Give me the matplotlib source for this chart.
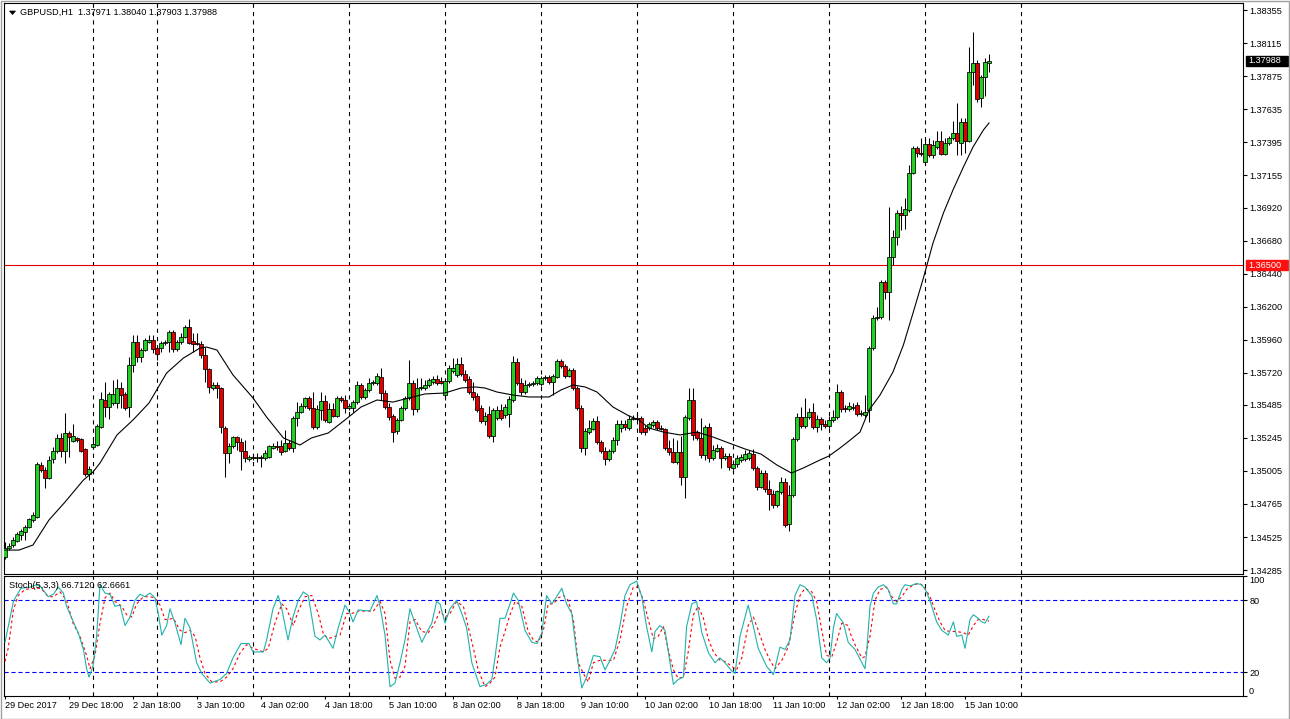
import numpy as np
import matplotlib
matplotlib.use("Agg")
import matplotlib.pyplot as plt
from matplotlib.patches import Rectangle, Polygon
from matplotlib.transforms import blended_transform_factory

# ---------------- data ----------------
title_text = "GBPUSD,H1  1.37971 1.38040 1.37903 1.37988"
stoch_title = "Stoch(5,3,3) 66.7120 62.6661"

open_ = [
 1.34380, 1.34445, 1.34467, 1.34496, 1.34540, 1.34561, 1.34598, 1.34649, 1.34670, 1.35048,
 1.35012, 1.34954, 1.35092, 1.35150, 1.35245, 1.35150, 1.35281, 1.35223, 1.35245, 1.35237,
 1.35165, 1.34983, 1.35179, 1.35194, 1.35325, 1.35521, 1.35470, 1.35499, 1.35499, 1.35608,
 1.35565, 1.35470, 1.35775, 1.35943, 1.35834, 1.35884, 1.35943, 1.35957, 1.35899, 1.35899,
 1.35935, 1.35943, 1.36015, 1.35892, 1.35943, 1.35979, 1.36052, 1.35950, 1.35935, 1.35928,
 1.35848, 1.35746, 1.35608, 1.35630, 1.35608, 1.35317, 1.35136, 1.35187, 1.35252, 1.35216,
 1.35150, 1.35092, 1.35107, 1.35099, 1.35107, 1.35099, 1.35107, 1.35172, 1.35187, 1.35187,
 1.35150, 1.35208, 1.35172, 1.35390, 1.35434, 1.35477, 1.35536, 1.35463, 1.35325, 1.35448,
 1.35514, 1.35361, 1.35456, 1.35405, 1.35536, 1.35521, 1.35463, 1.35463, 1.35506, 1.35630,
 1.35543, 1.35594, 1.35645, 1.35645, 1.35688, 1.35572, 1.35470, 1.35405, 1.35296, 1.35376,
 1.35463, 1.35536, 1.35645, 1.35456, 1.35608, 1.35608, 1.35630, 1.35652, 1.35674, 1.35659,
 1.35557, 1.35659, 1.35732, 1.35703, 1.35783, 1.35710, 1.35674, 1.35579, 1.35550, 1.35463,
 1.35368, 1.35419, 1.35259, 1.35390, 1.35448, 1.35412, 1.35419, 1.35521, 1.35797, 1.35645,
 1.35579, 1.35630, 1.35637, 1.35645, 1.35637, 1.35681, 1.35688, 1.35652, 1.35688, 1.35805,
 1.35768, 1.35695, 1.35739, 1.35608, 1.35463, 1.35172, 1.35288, 1.35310, 1.35368, 1.35216,
 1.35150, 1.35092, 1.35150, 1.35230, 1.35317, 1.35347, 1.35317, 1.35383, 1.35390, 1.35390,
 1.35317, 1.35317, 1.35339, 1.35361, 1.35317, 1.35310, 1.35172, 1.35143, 1.35070, 1.35143,
 1.34961, 1.35390, 1.35521, 1.35288, 1.35245, 1.35121, 1.35325, 1.35099, 1.35150, 1.35172,
 1.35099, 1.35114, 1.35027, 1.35056, 1.35085, 1.35092, 1.35099, 1.35128, 1.35027, 1.34889,
 1.34990, 1.34874, 1.34838, 1.34758, 1.34852, 1.34925, 1.34620, 1.34830, 1.35237, 1.35397,
 1.35332, 1.35397, 1.35434, 1.35325, 1.35383, 1.35347, 1.35332, 1.35376, 1.35397, 1.35579,
 1.35463, 1.35456, 1.35463, 1.35485, 1.35419, 1.35412, 1.35448, 1.35899, 1.36117, 1.36124,
 1.36379, 1.36306, 1.36561, 1.36706, 1.36880, 1.36866, 1.36902, 1.37171, 1.37353, 1.37317,
 1.37251, 1.37382, 1.37302, 1.37360, 1.37404, 1.37309, 1.37389, 1.37426, 1.37462, 1.37389,
 1.37542, 1.37404, 1.37906, 1.37971, 1.37717, 1.37869, 1.37971]

high_ = [
 1.34489, 1.34481, 1.34525, 1.34561, 1.34583, 1.34612, 1.34663, 1.34707, 1.35070, 1.35070,
 1.35034, 1.35114, 1.35179, 1.35274, 1.35281, 1.35426, 1.35296, 1.35347, 1.35252, 1.35245,
 1.35172, 1.35041, 1.35230, 1.35347, 1.35579, 1.35652, 1.35579, 1.35666, 1.35674, 1.35652,
 1.35579, 1.35834, 1.35994, 1.35994, 1.35899, 1.35972, 1.35994, 1.35994, 1.35921, 1.35950,
 1.35957, 1.36030, 1.36030, 1.35957, 1.36008, 1.36066, 1.36110, 1.36008, 1.36008, 1.35950,
 1.35906, 1.35754, 1.35652, 1.35652, 1.35616, 1.35332, 1.35208, 1.35259, 1.35259, 1.35245,
 1.35230, 1.35121, 1.35121, 1.35136, 1.35121, 1.35157, 1.35194, 1.35208, 1.35223, 1.35230,
 1.35303, 1.35230, 1.35405, 1.35506, 1.35499, 1.35543, 1.35550, 1.35579, 1.35485, 1.35579,
 1.35557, 1.35499, 1.35499, 1.35550, 1.35550, 1.35557, 1.35492, 1.35521, 1.35659, 1.35645,
 1.35608, 1.35681, 1.35666, 1.35717, 1.35754, 1.35594, 1.35499, 1.35419, 1.35390, 1.35477,
 1.35550, 1.35812, 1.35666, 1.35681, 1.35681, 1.35666, 1.35681, 1.35695, 1.35703, 1.35688,
 1.35681, 1.35775, 1.35826, 1.35826, 1.35834, 1.35739, 1.35695, 1.35652, 1.35572, 1.35485,
 1.35434, 1.35477, 1.35463, 1.35477, 1.35492, 1.35492, 1.35550, 1.35841, 1.35826, 1.35681,
 1.35666, 1.35652, 1.35659, 1.35695, 1.35695, 1.35703, 1.35703, 1.35710, 1.35819, 1.35819,
 1.35783, 1.35754, 1.35754, 1.35623, 1.35485, 1.35317, 1.35376, 1.35390, 1.35405, 1.35230,
 1.35179, 1.35165, 1.35252, 1.35376, 1.35376, 1.35376, 1.35412, 1.35412, 1.35419, 1.35405,
 1.35339, 1.35361, 1.35376, 1.35376, 1.35339, 1.35317, 1.35230, 1.35245, 1.35230, 1.35259,
 1.35412, 1.35608, 1.35608, 1.35303, 1.35390, 1.35339, 1.35354, 1.35194, 1.35201, 1.35187,
 1.35136, 1.35136, 1.35085, 1.35121, 1.35128, 1.35157, 1.35157, 1.35165, 1.35041, 1.35012,
 1.35012, 1.34939, 1.34867, 1.34867, 1.34961, 1.34954, 1.34903, 1.35252, 1.35426, 1.35470,
 1.35536, 1.35463, 1.35499, 1.35412, 1.35397, 1.35376, 1.35405, 1.35448, 1.35637, 1.35594,
 1.35485, 1.35506, 1.35499, 1.35506, 1.35448, 1.35557, 1.35914, 1.36139, 1.36197, 1.36393,
 1.36393, 1.36924, 1.36757, 1.36902, 1.36931, 1.36990, 1.37229, 1.37368, 1.37368, 1.37426,
 1.37426, 1.37426, 1.37411, 1.37477, 1.37477, 1.37426, 1.37440, 1.37549, 1.37680, 1.37571,
 1.37571, 1.38087, 1.38196, 1.37993, 1.37884, 1.38007, 1.38040]

low_ = [
 1.34365, 1.34430, 1.34452, 1.34489, 1.34503, 1.34503, 1.34590, 1.34634, 1.34663, 1.34998,
 1.34881, 1.34947, 1.35063, 1.35136, 1.35107, 1.35063, 1.35107, 1.35216, 1.35216, 1.35143,
 1.34968, 1.34939, 1.35165, 1.35187, 1.35317, 1.35397, 1.35383, 1.35485, 1.35463, 1.35463,
 1.35448, 1.35397, 1.35725, 1.35797, 1.35797, 1.35877, 1.35935, 1.35863, 1.35812, 1.35870,
 1.35921, 1.35870, 1.35870, 1.35877, 1.35928, 1.35972, 1.35928, 1.35870, 1.35921, 1.35826,
 1.35652, 1.35572, 1.35594, 1.35536, 1.35281, 1.34961, 1.35063, 1.35172, 1.35157, 1.35012,
 1.35070, 1.35078, 1.35085, 1.35070, 1.35034, 1.35085, 1.35099, 1.35165, 1.35157, 1.35121,
 1.35143, 1.35157, 1.35143, 1.35332, 1.35426, 1.35463, 1.35448, 1.35310, 1.35310, 1.35376,
 1.35361, 1.35354, 1.35397, 1.35397, 1.35506, 1.35426, 1.35448, 1.35434, 1.35492, 1.35528,
 1.35528, 1.35579, 1.35630, 1.35630, 1.35521, 1.35456, 1.35376, 1.35216, 1.35274, 1.35368,
 1.35448, 1.35521, 1.35412, 1.35434, 1.35594, 1.35594, 1.35616, 1.35637, 1.35630, 1.35637,
 1.35521, 1.35645, 1.35717, 1.35688, 1.35695, 1.35652, 1.35565, 1.35521, 1.35434, 1.35354,
 1.35339, 1.35245, 1.35216, 1.35376, 1.35376, 1.35390, 1.35325, 1.35506, 1.35630, 1.35557,
 1.35565, 1.35616, 1.35623, 1.35630, 1.35623, 1.35666, 1.35637, 1.35557, 1.35681, 1.35754,
 1.35681, 1.35688, 1.35594, 1.35448, 1.35143, 1.35121, 1.35274, 1.35303, 1.35201, 1.35136,
 1.35048, 1.35078, 1.35136, 1.35194, 1.35288, 1.35303, 1.35303, 1.35376, 1.35368, 1.35274,
 1.35267, 1.35303, 1.35325, 1.35303, 1.35303, 1.35157, 1.35121, 1.35063, 1.35056, 1.34903,
 1.34809, 1.35376, 1.35230, 1.35230, 1.35099, 1.35085, 1.35070, 1.35085, 1.35143, 1.35027,
 1.35085, 1.35012, 1.35012, 1.35034, 1.35070, 1.35078, 1.35085, 1.35012, 1.34867, 1.34881,
 1.34852, 1.34721, 1.34736, 1.34743, 1.34838, 1.34598, 1.34569, 1.34816, 1.35223, 1.35317,
 1.35317, 1.35383, 1.35310, 1.35288, 1.35303, 1.35317, 1.35317, 1.35361, 1.35383, 1.35434,
 1.35434, 1.35441, 1.35448, 1.35405, 1.35405, 1.35397, 1.35361, 1.35884, 1.36103, 1.36110,
 1.36255, 1.36103, 1.36502, 1.36648, 1.36757, 1.36764, 1.36888, 1.37164, 1.37288, 1.37295,
 1.37237, 1.37288, 1.37280, 1.37346, 1.37302, 1.37302, 1.37375, 1.37411, 1.37302, 1.37302,
 1.37317, 1.37397, 1.37811, 1.37687, 1.37651, 1.37731, 1.37903]

close_ = [
 1.34445, 1.34460, 1.34503, 1.34547, 1.34569, 1.34598, 1.34656, 1.34685, 1.35056, 1.35012,
 1.34954, 1.35085, 1.35150, 1.35245, 1.35150, 1.35281, 1.35252, 1.35259, 1.35230, 1.35150,
 1.34983, 1.35019, 1.35201, 1.35332, 1.35528, 1.35470, 1.35565, 1.35565, 1.35608, 1.35557,
 1.35463, 1.35775, 1.35943, 1.35834, 1.35884, 1.35957, 1.35957, 1.35892, 1.35855, 1.35935,
 1.35943, 1.36015, 1.35892, 1.35943, 1.35979, 1.36052, 1.35935, 1.35928, 1.35928, 1.35848,
 1.35746, 1.35616, 1.35630, 1.35608, 1.35325, 1.35136, 1.35187, 1.35252, 1.35216, 1.35150,
 1.35099, 1.35107, 1.35099, 1.35107, 1.35099, 1.35136, 1.35187, 1.35187, 1.35179, 1.35143,
 1.35208, 1.35172, 1.35390, 1.35434, 1.35477, 1.35536, 1.35463, 1.35325, 1.35456, 1.35514,
 1.35376, 1.35456, 1.35405, 1.35536, 1.35521, 1.35463, 1.35477, 1.35506, 1.35630, 1.35543,
 1.35594, 1.35645, 1.35652, 1.35695, 1.35572, 1.35470, 1.35397, 1.35288, 1.35376, 1.35463,
 1.35536, 1.35645, 1.35456, 1.35608, 1.35616, 1.35630, 1.35666, 1.35674, 1.35645, 1.35645,
 1.35659, 1.35754, 1.35754, 1.35783, 1.35710, 1.35666, 1.35579, 1.35543, 1.35448, 1.35368,
 1.35405, 1.35259, 1.35448, 1.35448, 1.35390, 1.35470, 1.35528, 1.35797, 1.35645, 1.35579,
 1.35630, 1.35637, 1.35645, 1.35681, 1.35681, 1.35688, 1.35652, 1.35695, 1.35805, 1.35768,
 1.35695, 1.35739, 1.35608, 1.35463, 1.35172, 1.35296, 1.35317, 1.35368, 1.35216, 1.35150,
 1.35092, 1.35150, 1.35230, 1.35347, 1.35347, 1.35325, 1.35383, 1.35390, 1.35383, 1.35288,
 1.35288, 1.35347, 1.35361, 1.35317, 1.35310, 1.35172, 1.35143, 1.35070, 1.35143, 1.34961,
 1.35397, 1.35521, 1.35267, 1.35245, 1.35121, 1.35325, 1.35099, 1.35157, 1.35172, 1.35099,
 1.35114, 1.35034, 1.35056, 1.35099, 1.35107, 1.35128, 1.35136, 1.35027, 1.34889, 1.34990,
 1.34874, 1.34838, 1.34758, 1.34859, 1.34925, 1.34612, 1.34830, 1.35237, 1.35397, 1.35332,
 1.35397, 1.35434, 1.35325, 1.35383, 1.35347, 1.35332, 1.35376, 1.35397, 1.35579, 1.35456,
 1.35456, 1.35477, 1.35470, 1.35419, 1.35426, 1.35434, 1.35899, 1.36117, 1.36124, 1.36379,
 1.36306, 1.36561, 1.36706, 1.36880, 1.36866, 1.36910, 1.37171, 1.37353, 1.37317, 1.37309,
 1.37382, 1.37302, 1.37375, 1.37404, 1.37309, 1.37389, 1.37426, 1.37462, 1.37404, 1.37542,
 1.37404, 1.37906, 1.37971, 1.37709, 1.37869, 1.37978, 1.37988]

# moving average: (bar index, price)
ma_points = [
 (0, 1.34430), (3.5, 1.34430), (7, 1.34467), (11, 1.34649), (15, 1.34779), (19.6, 1.34939),
 (22, 1.34998), (23.75, 1.35063), (28, 1.35267), (32, 1.35376), (36, 1.35499), (40.4, 1.35717),
 (44.6, 1.35826), (48.75, 1.35899), (50.4, 1.35906), (53, 1.35884), (57, 1.35703), (62, 1.35536),
 (65.4, 1.35397), (69.6, 1.35245), (73.75, 1.35194), (76.6, 1.35245), (80.8, 1.35281), (85, 1.35376),
 (89, 1.35470), (93, 1.35521), (97, 1.35506), (101, 1.35536), (105, 1.35565), (110, 1.35572),
 (114, 1.35608), (117.6, 1.35616), (120, 1.35608), (123, 1.35579), (127, 1.35557), (131, 1.35543),
 (136, 1.35543), (139, 1.35594), (142, 1.35630), (145, 1.35616), (148, 1.35579), (152, 1.35470),
 (156, 1.35405), (158.5, 1.35376), (161, 1.35317), (164.6, 1.35288), (168.75, 1.35267), (173, 1.35288),
 (177, 1.35252), (181, 1.35208), (185, 1.35165), (189, 1.35128), (193, 1.35048), (196.6, 1.34990),
 (199.6, 1.35027), (203.75, 1.35085), (206, 1.35114), (208.75, 1.35172), (211, 1.35223), (213.75, 1.35288),
 (216, 1.35448), (218.75, 1.35557), (222, 1.35725), (224.6, 1.35921), (227, 1.36153), (229.6, 1.36408),
 (232, 1.36662), (234.6, 1.36880), (237, 1.37048), (239.6, 1.37215), (242, 1.37360), (244.6, 1.37484),
 (246, 1.37535)]

stoch_k = [
 (0,45),(0.8,58),(2.1,79),(2.9,84),(4,90),(6.25,91),(7.9,93),(9,91),(10.8,83),(12.1,85),(13.3,91),
 (14.6,86),(15.4,75),(16.7,65),(18.3,53),(19.6,39),(20.4,23),(21,16),(22,25),(22.9,50),(23.75,93),
 (25,86),(26.25,85),(27.5,75),(28.75,76),(30,59),(31.25,66),(32.5,80),(33.75,85),(35,83),(36.25,86),
 (37.5,82),(38.3,69),(39.2,51),(40.4,59),(41.25,73),(42.5,61),(44,43),(45,65),(46.25,57),(47.9,28),
 (49.2,19),(51.25,11),(53.75,14),(55.4,19),(57,32),(59,44),(61,44),(62,37),(64.6,37),(65.4,47),
 (67,73),(68.3,84),(69,76),(70.75,47),(72,66),(73.3,80),(74.6,87),(75.8,84),(77.5,50),(78.75,47),
 (80,51),(82,40),(83.3,57),(85,76),(86.25,69),(87,62),(88.3,72),(91.25,71),(93,84),(93.75,75),
 (95,51),(96.25,8),(97.5,11),(98.75,28),(100,47),(101.25,73),(102.5,61),(104.2,45),(105.4,53),
 (106.7,61),(107.9,79),(108.75,77),(110,61),(111.25,73),(112.9,80),(114.2,69),(115.4,57),(116.7,28),
 (118.75,8),(120.4,10),(121.7,14),(122.5,32),(123.75,65),(125,65),(126.25,77),(127.1,86),(128.3,80),
 (130,55),(131.7,45),(133,44),(134.2,53),(135.4,84),(136.7,77),(137.9,83),(139.2,90),(140.4,77),
 (141.7,69),(142.9,36),(144.2,7),(145.4,16),(147.1,34),(148.75,33),(150,22),(151.25,30),(152.5,39),
 (153.75,59),(155,84),(156.25,93),(157.9,96),(159.2,83),(160.4,58),(161.7,37),(162.5,54),(163.75,59),
 (165,55),(166.25,28),(167.1,10),(168.3,14),(169.6,16),(170.4,58),(171.7,77),(172.9,79),(174.2,53),
 (175.9,36),(177.5,28),(178.75,32),(180,28),(181.7,21),(182.5,19),(183.75,50),(185.8,76),(187.1,58),
 (188.3,40),(190.4,25),(192.1,18),(193.75,41),(195,39),(196.25,47),(197.5,84),(198.75,93),(200,91),
 (201.7,84),(202.9,64),(204.2,32),(205.4,28),(206.25,32),(207.1,57),(207.9,69),(209.6,61),(210.8,45),
 (212.5,39),(215,23),(215.4,36),(216.25,75),(217.1,86),(218.3,91),(219.6,93),(220.8,89),(222.1,77),
 (222.9,77),(224.2,89),(225,93),(226.25,92),(227.9,94),(229.2,93),(230.4,87),(231.7,75),(232.9,62),
 (234.2,55),(235.8,51),(237.1,62),(237.9,50),(239.2,51),(240,40),(241.25,64),(242.1,68),(243.3,65),
 (244.2,62),(245,61),(246,66.71)]

stoch_d = [
 (0,29),(0.8,40),(2.1,72),(3.3,84),(5,89),(7,90),(9,90),(10.8,83),(12.1,83),(13.75,87),(15.4,80),
 (17,61),(18.75,50),(20.4,34),(21.25,23),(22.5,34),(23.75,61),(25,82),(26.25,86),(27.5,79),(29.2,75),
 (30.4,68),(31.7,66),(32.9,77),(34.6,83),(36.25,83),(37.5,82),(38.75,76),(40,64),(40.8,64),(42.1,65),
 (43.75,55),(45,53),(46.25,55),(47.5,50),(48.75,32),(50,19),(51.7,12),(53.75,12),(55.4,16),(57,23),
 (58.75,36),(60.4,43),(62,40),(64.6,37),(65.8,40),(67.5,61),(69.2,77),(70.4,73),(72.1,59),(73.3,71),
 (75,83),(76.7,84),(78.3,69),(79.6,52),(80.8,48),(82.5,50),(83.75,51),(85.4,69),(86.7,69),(88.3,71),
 (90.4,71),(92.1,71),(93.75,79),(95,69),(96.25,30),(97.5,15),(98.75,16),(100,25),(101.25,62),
 (102.5,64),(104.2,54),(105.8,53),(107.1,59),(108.75,71),(110,66),(111.25,69),(112.9,79),(114.6,75),
 (115.8,58),(117.1,40),(118.3,22),(120,8),(121.25,11),(122.5,16),(123.75,41),(125,54),(126.25,68),
 (127.5,79),(129.2,75),(130.8,54),(132.1,47),(133.3,45),(134.6,55),(135.8,77),(137.1,77),(138.3,82),
 (139.6,84),(140.8,80),(142.1,64),(143.3,28),(144.6,19),(145.8,12),(147.1,28),(148.75,30),(150.4,30),
 (152.1,30),(153.75,47),(155.4,75),(157.1,91),(158.3,91),(159.6,80),(160.8,64),(162.1,48),(163.3,50),
 (164.6,58),(165.8,39),(167.1,22),(168.3,15),(169.6,16),(170.8,37),(172.1,68),(173.3,75),(174.6,65),
 (175.8,48),(177.1,37),(178.75,30),(180,29),(181.7,25),(182.9,22),(184.2,32),(185.8,59),(187.1,66),
 (188.3,55),(190,39),(191.25,30),(192.5,23),(194.2,30),(195.8,41),(197.5,69),(198.75,84),(200,90),
 (201.7,87),(202.9,79),(204.2,55),(205.4,34),(206.7,33),(207.9,45),(209.2,61),(210.8,59),(211.25,53),
 (212.5,43),(214.2,32),(215,33),(216.25,50),(217.5,80),(218.75,89),(220.4,91),(221.7,83),(222.9,79),
 (224.2,83),(225.4,89),(227.1,93),(228.75,94),(230,90),(231.25,83),(232.5,72),(233.75,62),(235,55),
 (236.25,54),(237.9,54),(239.6,53),(240.8,51),(242.1,59),(243.3,64),(244.6,64),(246,62.67)]

price_ticks = [1.38355, 1.38115, 1.37875, 1.37635, 1.37395, 1.37155, 1.36920, 1.36680, 1.36440,
               1.36200, 1.35960, 1.35720, 1.35485, 1.35245, 1.35005, 1.34765, 1.34525, 1.34285]
time_tick_bars = [0, 16, 32, 48, 64, 80, 96, 112, 128, 144, 160, 176, 192, 208, 224, 240]
time_labels = ["29 Dec 2017", "29 Dec 18:00", "2 Jan 18:00", "3 Jan 10:00", "4 Jan 02:00",
               "4 Jan 18:00", "5 Jan 10:00", "8 Jan 02:00", "8 Jan 18:00", "9 Jan 10:00",
               "10 Jan 02:00", "10 Jan 18:00", "11 Jan 10:00", "12 Jan 02:00", "12 Jan 18:00",
               "15 Jan 10:00"]
separator_bars = [22, 38, 62, 86, 110, 134, 158, 182, 206, 230, 254]
last_price = 1.37988
hline_price = 1.36500
stoch_levels = [80, 20]

assert len(open_) == len(high_) == len(low_) == len(close_)

# ---------------- drawing ----------------
plt.rcParams['font.family'] = ['Liberation Sans', 'DejaVu Sans']
plt.rcParams['lines.scale_dashes'] = False
FS = 6.6
W, H = 1290, 719
fig = plt.figure(figsize=(W / 100, H / 100), dpi=100)
fig.patch.set_facecolor('white')

def frect(x0, y0, x1, y1):
    return [x0 / W, 1 - y1 / H, (x1 - x0) / W, (y1 - y0) / H]

ax = fig.add_axes(frect(4, 3, 1243, 573.5))
axs = fig.add_axes(frect(4, 576.3, 1243, 696.3))

XL = (-0.25, 309.5)
for a in (ax, axs):
    a.set_xlim(*XL)
    for s in a.spines.values():
        s.set_color('black')
        s.set_linewidth(0.8)

ax.set_ylim(1.342597, 1.384072)

o = np.array(open_); h = np.array(high_); l = np.array(low_); c = np.array(close_)
xb = np.arange(len(o))
ax.vlines(xb, l, h, colors='black', linewidth=0.75, zorder=3)
bot = np.minimum(o, c)
ht = np.maximum(np.abs(c - o), 1e-6)
cols = np.where(c >= o, '#22d022', '#e00000')
ax.bar(xb, ht, bottom=bot, width=0.78, color=cols, edgecolor='black',
       linewidth=0.55, zorder=4)

mb, mv = zip(*ma_points)
ax.plot(mb, mv, color='black', lw=0.8, zorder=5)

ax.axhline(hline_price, color='#e00000', lw=0.8, zorder=2)

for b in separator_bars:
    for a in (ax, axs):
        a.axvline(b, color='black', lw=0.8, ls=(0, (3, 3)), zorder=1)

# price axis
ax.yaxis.tick_right()
ax.set_yticks(price_ticks)
ax.set_yticklabels([f"{p:.5f}" for p in price_ticks])
ax.tick_params(axis='y', direction='out', length=3, width=0.8, pad=1.5,
               labelsize=FS, colors='black')
ax.set_xticks([])

# price boxes
tr = blended_transform_factory(fig.transFigure, ax.transData)
box_h = 0.00073
for price, fc in ((last_price, 'black'), (hline_price, '#ff1010')):
    ax.add_patch(Rectangle((1246 / W, price - box_h / 2), 42 / W, box_h, transform=tr,
                           facecolor=fc, edgecolor=fc, clip_on=False, zorder=10))
    ax.text(1248.5 / W, price, f"{price:.5f}", transform=tr, color='white', fontsize=FS,
            va='center', ha='left', clip_on=False, zorder=11)

# stochastic
axs.set_ylim(0, 100)
kb, kv = zip(*stoch_k)
db, dv = zip(*stoch_d)
for lv in stoch_levels:
    axs.axhline(lv, color='#0000ff', lw=0.8, ls=(0, (3, 2)), zorder=2)
axs.plot(db, dv, color='#ff0000', lw=0.8, ls=(0, (2, 2)), zorder=3)
axs.plot(kb, kv, color='#20b2aa', lw=0.8, zorder=4)

axs.yaxis.tick_right()
axs.set_yticks([100, 80, 20, 0])
axs.set_yticklabels(['', '80', '20', ''])
axs.tick_params(axis='y', direction='out', length=3, width=0.8, pad=1.5, labelsize=FS)
trs = blended_transform_factory(fig.transFigure, axs.transData)
axs.text(1249 / W, 100, '100', transform=trs, fontsize=FS, va='top', ha='left', clip_on=False)
axs.text(1249 / W, 0, '0', transform=trs, fontsize=FS, va='bottom', ha='left', clip_on=False)

axs.set_xticks(time_tick_bars)
axs.set_xticklabels(time_labels, ha='left')
axs.tick_params(axis='x', direction='out', length=2.2, width=0.8, pad=1, labelsize=FS)

# titles
fig.text(20.5 / W, 1 - 12.8 / H, title_text, fontsize=FS, va='center', ha='left')
fig.patches.append(Polygon([(9.5 / W, 1 - 11 / H), (15.5 / W, 1 - 11 / H), (12.5 / W, 1 - 14.5 / H)],
                           closed=True, transform=fig.transFigure, facecolor='black',
                           edgecolor='black', lw=0.5))
fig.text(9 / W, 1 - 585 / H, stoch_title, fontsize=FS, va='center', ha='left')

# outer frame
fig.patches.append(Rectangle((0.5 / W, 0.5 / H), 1 - 1.5 / W, 1 - 1.5 / H, transform=fig.transFigure,
                             fill=False, edgecolor='#a0a0a0', lw=1))

fig.savefig('out.png', dpi=100, facecolor='white')
